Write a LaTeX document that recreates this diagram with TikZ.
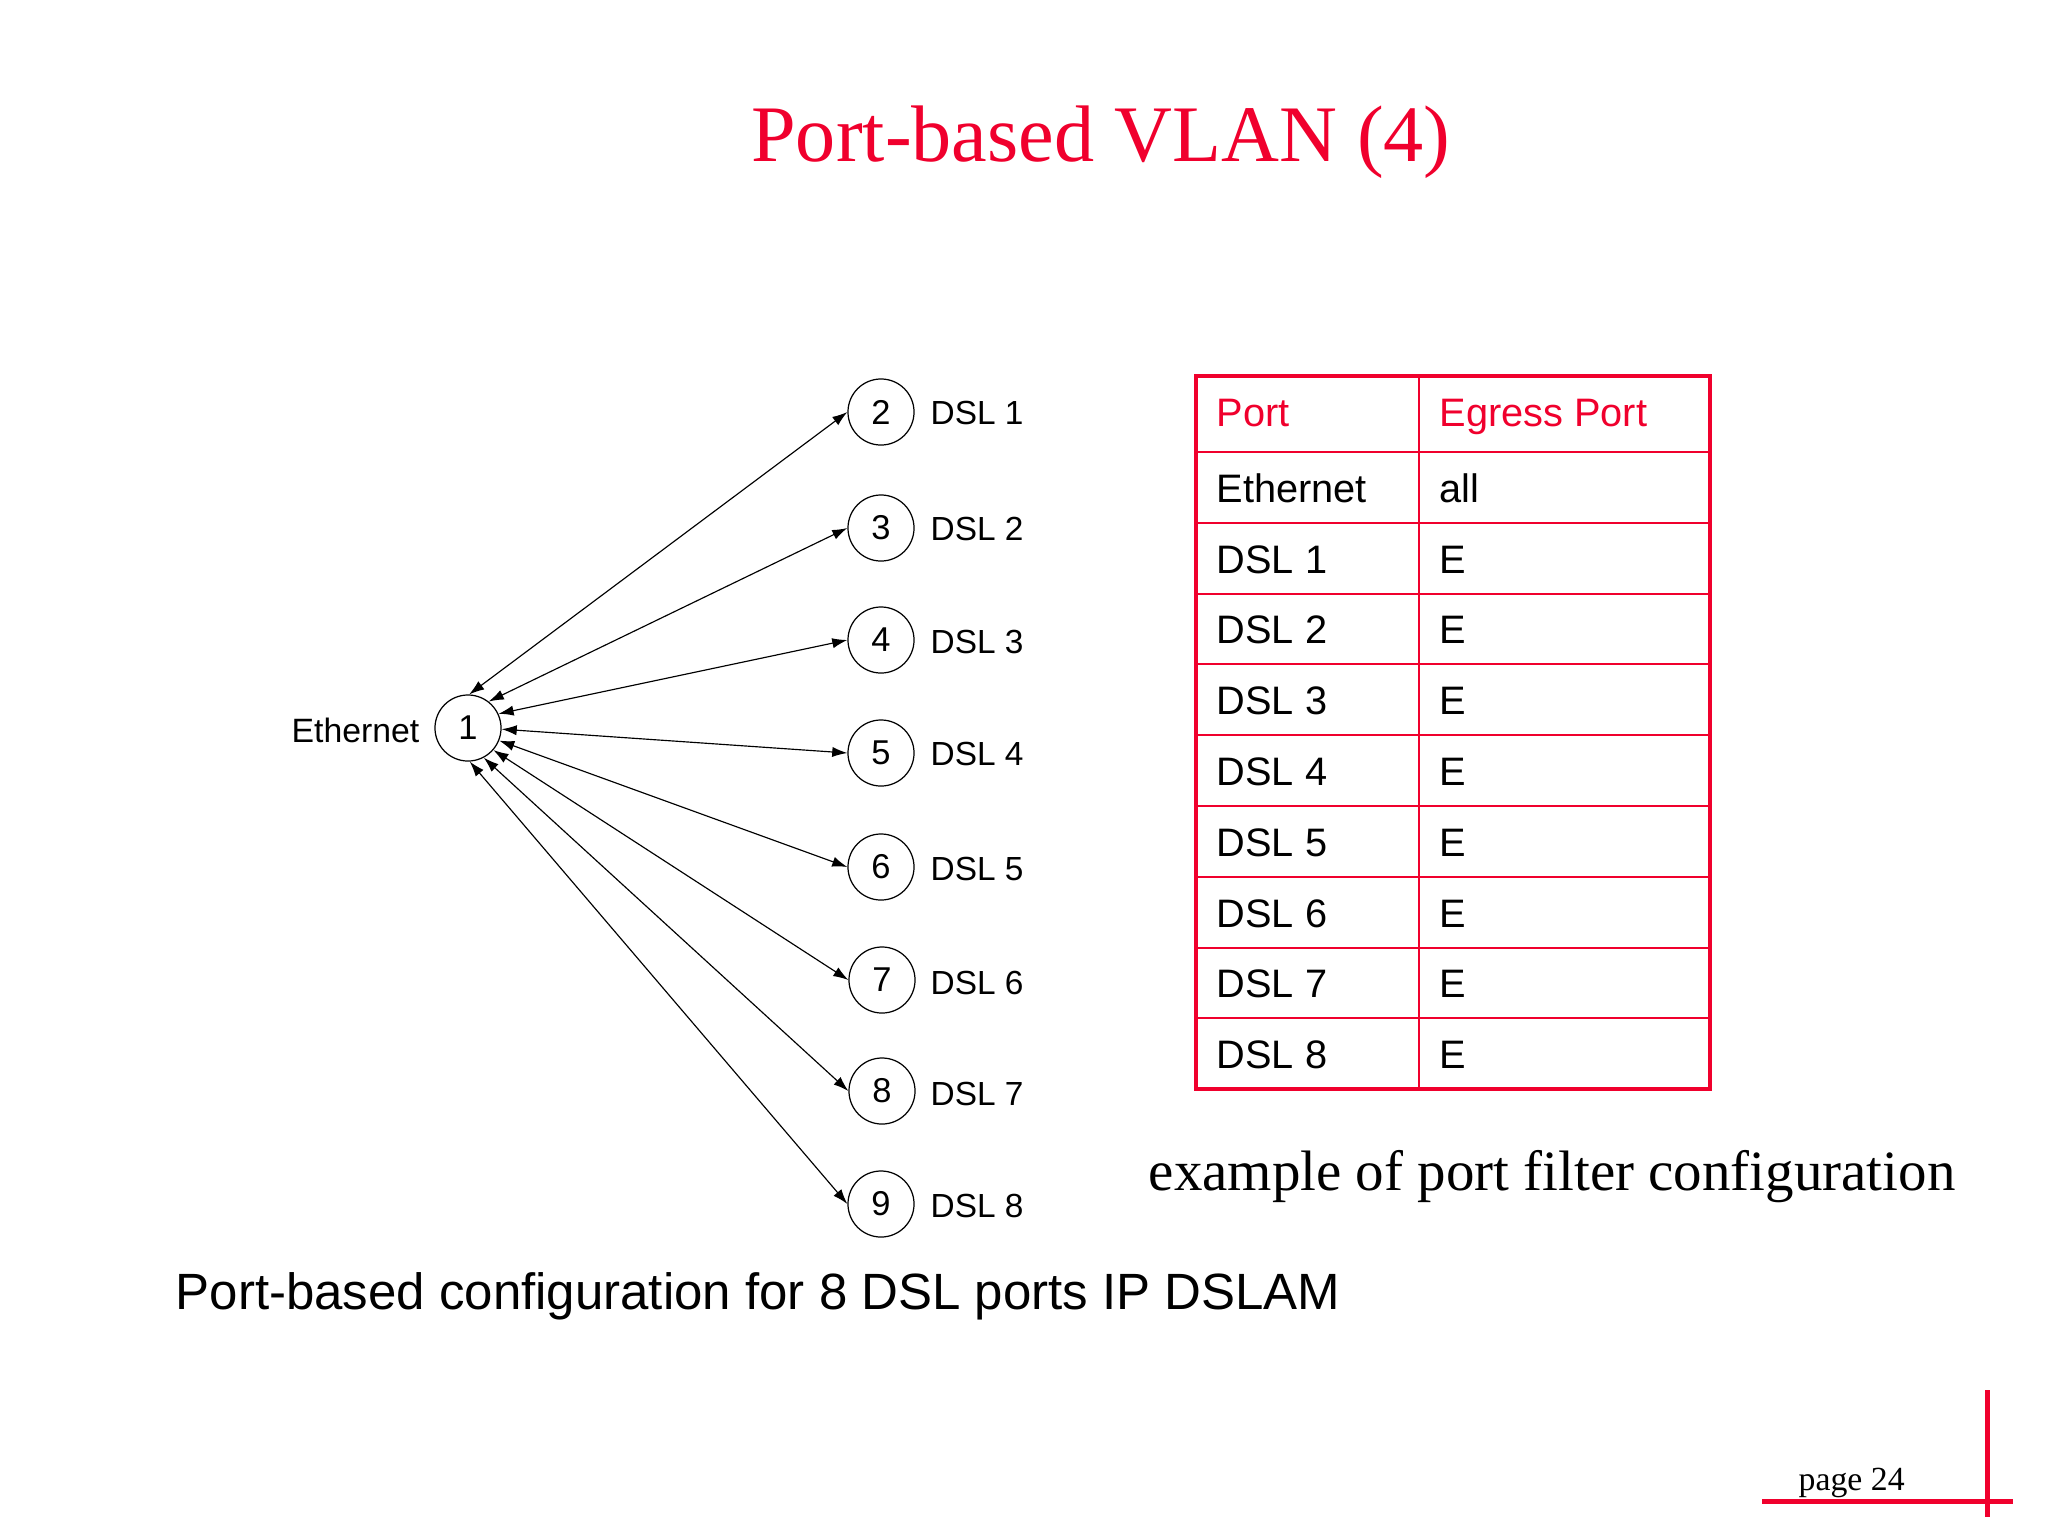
\documentclass[tikz,border=0pt]{standalone}
\usepackage{fontspec}
\setmainfont{Liberation Sans}
\newfontfamily\seriffont{Liberation Serif}
\usetikzlibrary{arrows.meta}
\definecolor{slidered}{RGB}{240,0,45}
\begin{document}
\begin{tikzpicture}[x=0.01cm,y=-0.01cm,
  port/.style={circle,draw,line width=0.35pt,minimum size=0.66cm,inner sep=0pt,font=\fontsize{9.8}{11}\selectfont},
  dsl/.style={anchor=base west,inner sep=0pt,font=\fontsize{9.5}{11}\selectfont},
  link/.style={line width=0.33pt,{Latex[length=4.3pt,width=2.9pt]}-{Latex[length=4.3pt,width=2.9pt]}},
  cell/.style={anchor=base west,inner sep=0pt,font=\fontsize{11.3}{13}\selectfont},
  hcell/.style={cell,text=slidered},
  grid/.style={draw=slidered,line width=0.6pt},
  frame/.style={draw=slidered,line width=1.3pt},
  serifbig/.style={inner sep=0pt,font=\seriffont\fontsize{16.2}{19}\selectfont}]
\useasboundingbox[fill=white] (0,0) rectangle (2048,1536);

% title
\node[anchor=base,inner sep=0pt,text=slidered,font=\seriffont\fontsize{22.8}{26}\selectfont] (title) at (1101,161) {Port-based VLAN (4)};

% ports
\node[port] (n1) at (468,728) {1};
\node[port] (n2) at (881,412) {2};
\node[port] (n3) at (881,528) {3};
\node[port] (n4) at (881,640) {4};
\node[port] (n5) at (881,753) {5};
\node[port] (n6) at (881,867) {6};
\node[port] (n7) at (882,980) {7};
\node[port] (n8) at (882,1091) {8};
\node[port] (n9) at (881,1204) {9};

\node[anchor=base east,inner sep=0pt,font=\fontsize{9.6}{11}\selectfont] (eth) at (420,742) {Ethernet};

\node[dsl] (l2) at (930,424) {DSL 1};
\node[dsl] (l3) at (930,540) {DSL 2};
\node[dsl] (l4) at (930,653) {DSL 3};
\node[dsl] (l5) at (930,765) {DSL 4};
\node[dsl] (l6) at (930,880) {DSL 5};
\node[dsl] (l7) at (930,994) {DSL 6};
\node[dsl] (l8) at (930,1105) {DSL 7};
\node[dsl] (l9) at (930,1217) {DSL 8};

% links
\draw[link] (n2.west) -- (n1.88);
\draw[link] (n3.west) -- (n1.52);
\draw[link] (n4.west) -- (n1.25);
\draw[link] (n5.west) -- (n1.-2);
\draw[link] (n6.west) -- (n1.-22);
\draw[link] (n7.west) -- (n1.-41);
\draw[link] (n8.west) -- (n1.-62);
\draw[link] (n9.west) -- (n1.-87);

% table
\draw[grid] (1419,376) -- (1419,1089);
\foreach \yy in {452,523,594,664,735,806,877,948,1018}
  \draw[grid] (1196,\yy) -- (1710,\yy);
\draw[frame] (1196,376) rectangle (1710,1089);

\node[hcell] (h1) at (1216,426) {Port};
\node[hcell] (h2) at (1439,426) {Egress Port};
\node[cell] (r1a) at (1216,502) {Ethernet};
\node[cell] (r1b) at (1439,502) {all};
\node[cell] (r2a) at (1216,573) {DSL 1};
\node[cell] (r2b) at (1439,573) {E};
\node[cell] (r3a) at (1216,643) {DSL 2};
\node[cell] (r3b) at (1439,643) {E};
\node[cell] (r4a) at (1216,714) {DSL 3};
\node[cell] (r4b) at (1439,714) {E};
\node[cell] (r5a) at (1216,785) {DSL 4};
\node[cell] (r5b) at (1439,785) {E};
\node[cell] (r6a) at (1216,856) {DSL 5};
\node[cell] (r6b) at (1439,856) {E};
\node[cell] (r7a) at (1216,927) {DSL 6};
\node[cell] (r7b) at (1439,927) {E};
\node[cell] (r8a) at (1216,997) {DSL 7};
\node[cell] (r8b) at (1439,997) {E};
\node[cell] (r9a) at (1216,1068) {DSL 8};
\node[cell] (r9b) at (1439,1068) {E};

% captions
\node[serifbig,anchor=base west] (ex) at (1148,1190) {example of port filter configuration};
\node[anchor=base west,inner sep=0pt,font=\fontsize{14.5}{17}\selectfont] (cap) at (175,1309) {Port-based configuration for 8 DSL ports IP DSLAM};

% page mark
\node[anchor=base west,inner sep=0pt,font=\seriffont\fontsize{9.6}{11}\selectfont] (page) at (1798,1490) {page 24};
\draw[slidered,line width=1.42pt] (1762,1501) -- (2013,1501);
\draw[slidered,line width=1.42pt] (1987,1390) -- (1987,1517);
\end{tikzpicture}
\end{document}
